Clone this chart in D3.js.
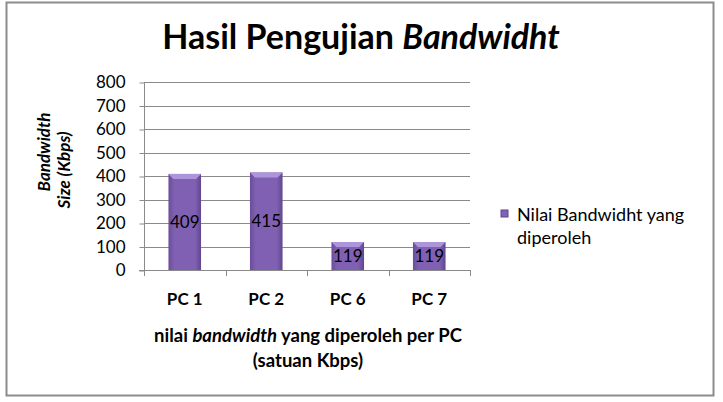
<!DOCTYPE html>
<html>
<head>
<meta charset="utf-8">
<script src="https://cdn.jsdelivr.net/npm/d3@7"></script>
<style>
  body { margin: 0; background: #fff; }
  text { font-family: Lato, "Open Sans", sans-serif; fill: #000; }
</style>
</head>
<body>
<script>
// chart data
const categories = ["PC 1", "PC 2", "PC 6", "PC 7"];
const values = [409, 415, 119, 119];
const yTicks = [0, 100, 200, 300, 400, 500, 600, 700, 800];
const seriesName = ["Nilai Bandwidht yang", "diperoleh"];

const width = 723, height = 402;

const svg = d3.select("body")
    .append("svg")
    .attr("width", width)
    .attr("height", height);

// gradient for bar body
const defs = svg.append("defs");
const grad = defs.append("linearGradient")
    .attr("id", "barGrad")
    .attr("x1", "0%").attr("x2", "100%")
    .attr("y1", "0%").attr("y2", "0%");
grad.append("stop").attr("offset", "0%").attr("stop-color", "#6a4d9a");
grad.append("stop").attr("offset", "18%").attr("stop-color", "#7f60b3");
grad.append("stop").attr("offset", "82%").attr("stop-color", "#7f60b3");
grad.append("stop").attr("offset", "100%").attr("stop-color", "#61468f");

// outer frame
svg.append("rect")
    .attr("x", 6.5).attr("y", 2.5)
    .attr("width", 707).attr("height", 393)
    .attr("fill", "#fff")
    .attr("stroke", "#8c8c8c")
    .attr("stroke-width", 2);

// title
const title = svg.append("text")
    .attr("x", 361)
    .attr("y", 49)
    .attr("text-anchor", "middle")
    .attr("font-size", 34)
    .attr("font-weight", "bold");
title.append("tspan").text("Hasil Pengujian ");
title.append("tspan").attr("font-style", "italic").text("Bandwidht");

// scales
const x = d3.scaleBand()
    .domain(categories)
    .range([144, 470])
    .paddingInner(0.6)
    .paddingOuter(0.3);
const xEdge = d3.scaleBand().domain(categories).range([144, 470]).padding(0);

const y = d3.scaleLinear()
    .domain([0, 800])
    .range([270, 82]);

// gridlines
svg.append("g")
    .selectAll("line")
    .data(yTicks.filter(d => d > 0))
    .join("line")
    .attr("x1", 144).attr("x2", 470)
    .attr("y1", d => Math.round(y(d)) + 0.5)
    .attr("y2", d => Math.round(y(d)) + 0.5)
    .attr("stroke", "#8a8a8a")
    .attr("stroke-width", 1);

// y axis
const yAxis = svg.append("g")
    .attr("transform", "translate(144.5,0.5)")
    .call(d3.axisLeft(y).tickValues(yTicks).tickSize(5).tickPadding(14));
yAxis.select(".domain").attr("stroke", "#8a8a8a").attr("d", `M0,${y(800)}V${y(0)}`);
yAxis.selectAll(".tick line").attr("stroke", "#8a8a8a");
yAxis.selectAll(".tick text")
    .attr("font-size", 17)
    .attr("font-family", "Lato, sans-serif")
    .attr("fill", "#000");

// x axis baseline and boundary ticks
svg.append("line")
    .attr("x1", 139).attr("x2", 470)
    .attr("y1", 270.5).attr("y2", 270.5)
    .attr("stroke", "#8a8a8a");
svg.append("g")
    .selectAll("line")
    .data([144].concat(categories.map(c => xEdge(c) + xEdge.bandwidth())))
    .join("line")
    .attr("x1", d => Math.round(d) + 0.5).attr("x2", d => Math.round(d) + 0.5)
    .attr("y1", 270).attr("y2", 276)
    .attr("stroke", "#8a8a8a");

// category labels
svg.append("g")
    .selectAll("text")
    .data(categories)
    .join("text")
    .attr("x", d => x(d) + x.bandwidth() / 2)
    .attr("y", 305)
    .attr("text-anchor", "middle")
    .attr("font-size", 17)
    .attr("font-weight", "bold")
    .text(d => d);

// bars with bevel
const bevel = 5;
const bars = svg.append("g")
    .selectAll("g")
    .data(categories.map((c, i) => ({ cat: c, val: values[i] })))
    .join("g");

bars.append("rect")
    .attr("x", d => x(d.cat))
    .attr("y", d => y(d.val))
    .attr("width", x.bandwidth())
    .attr("height", d => y(0) - y(d.val))
    .attr("fill", "url(#barGrad)");

bars.append("polygon")
    .attr("points", d => {
        const x0 = x(d.cat), x1 = x0 + x.bandwidth(), y0 = y(d.val);
        return [[x0, y0], [x1, y0], [x1 - bevel, y0 + bevel], [x0 + bevel, y0 + bevel]].join(" ");
    })
    .attr("fill", "#ad95dc");

bars.append("text")
    .attr("x", d => x(d.cat) + x.bandwidth() / 2)
    .attr("y", d => (y(d.val) + y(0)) / 2 + 6)
    .attr("text-anchor", "middle")
    .attr("font-size", 17)
    .attr("fill", "#1c1530")
    .text(d => d.val);

// y axis title
const yTitle = svg.append("text")
    .attr("transform", "rotate(-90)")
    .attr("text-anchor", "middle")
    .attr("font-size", 17)
    .attr("font-weight", "bold")
    .attr("font-style", "italic");
yTitle.append("tspan").attr("x", -152).attr("y", 50).text("Bandwidth");
yTitle.append("tspan").attr("x", -170).attr("y", 70).text("Size (Kbps)");

// x axis title
const xTitle = svg.append("text")
    .attr("text-anchor", "middle")
    .attr("font-size", 18.5)
    .attr("font-weight", "bold");
const line1 = xTitle.append("tspan").attr("x", 308).attr("y", 342);
line1.append("tspan").text("nilai ");
line1.append("tspan").attr("font-style", "italic").text("bandwidth");
line1.append("tspan").text(" yang diperoleh per PC");
svg.append("text")
    .attr("x", 308).attr("y", 367)
    .attr("text-anchor", "middle")
    .attr("font-size", 18.5)
    .attr("font-weight", "bold")
    .text("(satuan Kbps)");

// legend
svg.append("rect")
    .attr("x", 501).attr("y", 210)
    .attr("width", 7).attr("height", 7)
    .attr("fill", "#8064b4")
    .attr("stroke", "#5e4390")
    .attr("stroke-width", 1);
svg.append("g")
    .selectAll("text")
    .data(seriesName)
    .join("text")
    .attr("x", 517)
    .attr("y", (d, i) => 221 + i * 23)
    .attr("font-size", 18)
    .attr("fill", "#222")
    .text(d => d);
</script>
</body>
</html>
